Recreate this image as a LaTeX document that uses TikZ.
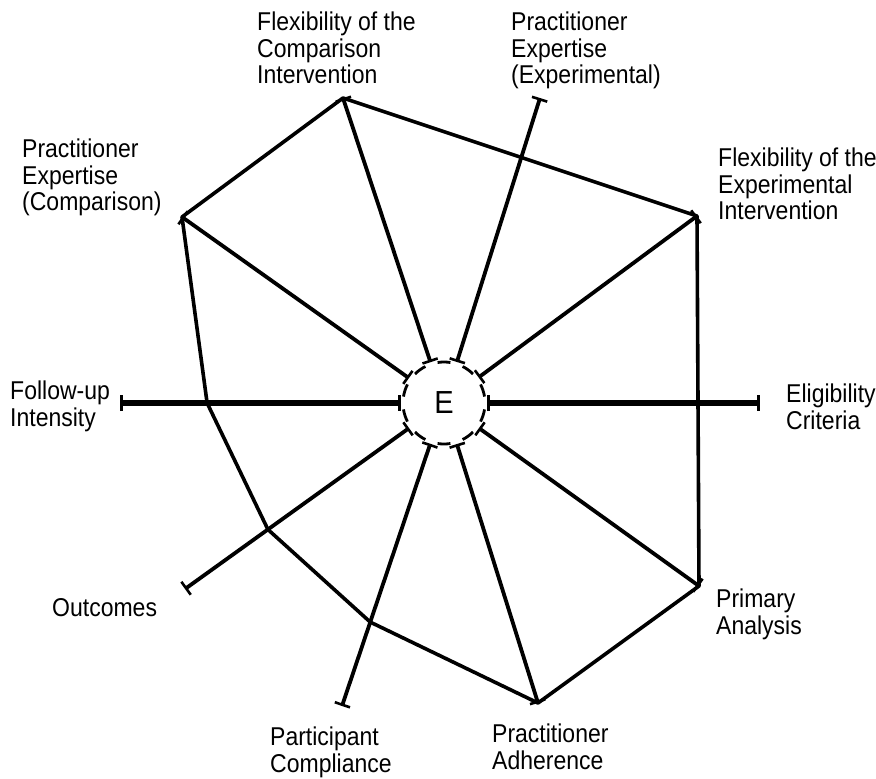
\documentclass[tikz,border=0pt]{standalone}
\usepackage{graphicx}
\usepackage{fontspec}
\setmainfont{Liberation Sans}
\usetikzlibrary{arrows.meta,calc}
\newcommand\lbltxt[1]{\scalebox{1}[1.12]{\begin{tabular}{@{}l@{}}#1\end{tabular}}}
\begin{document}
\begin{tikzpicture}[x=1pt,y=-1pt,
  spoke/.style={line width=3.8pt,{Bar[width=16pt,line width=2.6pt]}-{Bar[width=16pt,line width=2.6pt]}},
  hspoke/.style={spoke,line width=5.5pt},
  poly/.style={line width=3.6pt,line join=round},
  lbl/.style={anchor=north west,inner sep=0pt,font=\fontsize{23}{23.5}\selectfont}]
\useasboundingbox (0,0) rectangle (876,779);
\coordinate (C) at (444,403);
\coordinate (E0) at (760,403);
\coordinate (E1) at (697,216);
\coordinate (E2) at (540,98);
\coordinate (E3) at (343,98);
\coordinate (E4) at (182,217);
\coordinate (E5) at (120,403);
\coordinate (E6) at (185,589);
\coordinate (E7) at (342,706);
\coordinate (E8) at (538,703);
\coordinate (E9) at (699,586);
\foreach \i in {0,...,9}{
  \coordinate (I\i) at ($(C)!43pt!(E\i)$);
}
\foreach \i in {1,2,3,4,6,7,8,9}{
  \draw[spoke] (I\i) -- (E\i);
}
\draw[hspoke] (I0) -- (E0);
\draw[hspoke] (I5) -- (E5);
% dashed centre circle
\foreach \a in {0,36,...,324}{
  \draw[line width=2.8pt] ($(C)+(\a+9:41)$) arc[start angle=\a+9,end angle=\a+27,radius=41];
}
\node[font=\fontsize{29}{30}\selectfont,inner sep=0pt] (Ec) at (C) {\scalebox{1}[1.1]{E}};
% polygon
\coordinate (P5) at ($(I5)!0.69!(E5)$);
\coordinate (P6) at ($(I6)!0.63!(E6)$);
\coordinate (P7) at ($(I7)!0.68!(E7)$);
\draw[poly] (E3) -- (E1) -- (E9) -- (E8) -- (P7) -- (P6) -- (P5) -- (E4) -- cycle;
% labels
\node[lbl] (L3) at (257,12) {\lbltxt{Flexibility of the\\Comparison\\Intervention}};
\node[lbl] (L2) at (511,12) {\lbltxt{Practitioner\\Expertise\\(Experimental)}};
\node[lbl] (L1) at (718,148) {\lbltxt{Flexibility of the\\Experimental\\Intervention}};
\node[lbl] (L4) at (22,139) {\lbltxt{Practitioner\\Expertise\\(Comparison)}};
\node[lbl] (L5) at (10,381) {\lbltxt{Follow-up\\Intensity}};
\node[lbl] (L0) at (786,384) {\lbltxt{Eligibility\\Criteria}};
\node[lbl] (L6) at (52,598) {\lbltxt{Outcomes}};
\node[lbl] (L9) at (716,589) {\lbltxt{Primary\\Analysis}};
\node[lbl] (L8) at (492,724) {\lbltxt{Practitioner\\Adherence}};
\node[lbl] (L7) at (270,727) {\lbltxt{Participant\\Compliance}};
\end{tikzpicture}
\end{document}
